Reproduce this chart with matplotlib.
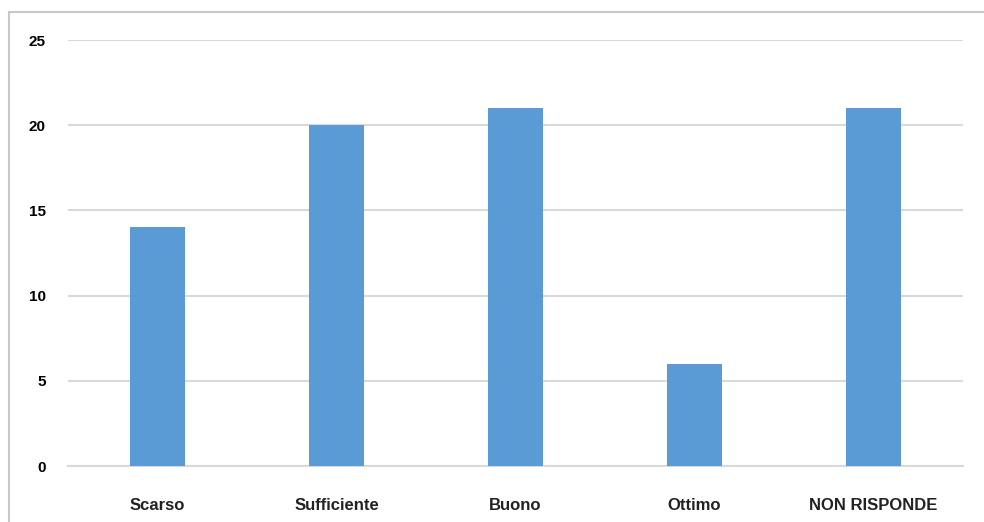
import matplotlib.pyplot as plt
from matplotlib.patches import Rectangle

categories = ['Scarso', 'Sufficiente', 'Buono', 'Ottimo', 'NON RISPONDE']
values = [14, 20, 21, 6, 21]
y_ticks = [0, 5, 10, 15, 20, 25]

plt.rcParams['font.family'] = ['Liberation Sans', 'DejaVu Sans']

fig = plt.figure(figsize=(9.84, 5.22), dpi=100)
ax = fig.add_axes([68 / 984, 1 - 466 / 522, 895 / 984, 426 / 522])

x = range(len(categories))
ax.bar(x, values, width=0.31, color='#5B9BD5', zorder=3)

ax.set_xlim(-0.5, len(categories) - 0.5)
ax.set_ylim(0, 25)
ax.set_yticks(y_ticks)
ax.set_yticklabels([str(t) for t in y_ticks], fontsize=11, fontweight='bold')
ax.set_xticks(list(x))
ax.set_xticklabels(categories, fontsize=12, fontweight='bold', color='#222222')
ax.tick_params(axis='both', length=0)
ax.tick_params(axis='y', pad=16)
ax.tick_params(axis='x', pad=23)

ax.grid(axis='y', color='#D9D9D9', linewidth=1.5, zorder=0)
for side in ['top', 'right', 'left']:
    ax.spines[side].set_visible(False)
ax.spines['bottom'].set_color('#D9D9D9')
ax.spines['bottom'].set_linewidth(1.5)

# chart area border
fig.patches.append(Rectangle((9 / 984, -0.05), 1.0, 1 - 12 / 522 + 0.05,
                             transform=fig.transFigure, fill=False,
                             edgecolor='#C8C8C8', linewidth=1.5))

plt.savefig('out.png', dpi=100)
